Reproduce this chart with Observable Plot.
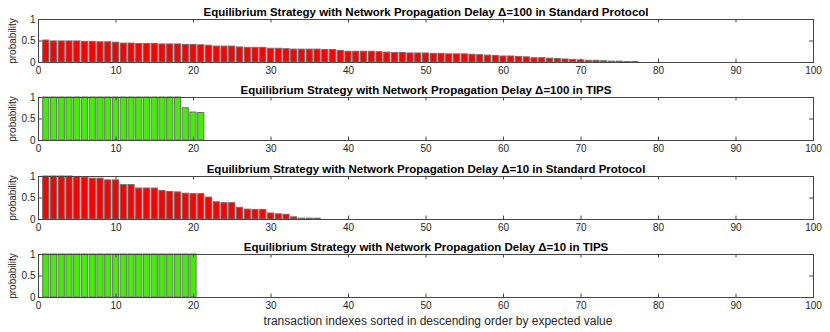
<!DOCTYPE html>
<html>
<head>
<meta charset="utf-8">
<script src="https://cdn.jsdelivr.net/npm/d3@7"></script>
<script src="https://cdn.jsdelivr.net/npm/@observablehq/plot@0.6"></script>
<style>
  html, body { margin: 0; padding: 0; background: #fff; }
  #chart { position: relative; width: 830px; height: 332px; font-family: "Liberation Sans", Arial, sans-serif; }
  #chart svg { position: absolute; left: 0; }
</style>
</head>
<body>
<div id="chart"></div>
<script>
// ---- data ----
const titles = [
  "Equilibrium Strategy with Network Propagation Delay \u0394=100 in Standard Protocol",
  "Equilibrium Strategy with Network Propagation Delay \u0394=100 in TIPS",
  "Equilibrium Strategy with Network Propagation Delay \u0394=10 in Standard Protocol",
  "Equilibrium Strategy with Network Propagation Delay \u0394=10 in TIPS"
];
const std100 = [0.51,0.49,0.49,0.49,0.49,0.48,0.48,0.47,0.47,0.46,
  0.44,0.44,0.43,0.43,0.43,0.42,0.42,0.42,0.41,0.41,
  0.40,0.39,0.37,0.37,0.37,0.35,0.34,0.34,0.34,0.32,
  0.32,0.31,0.30,0.30,0.30,0.30,0.29,0.29,0.27,0.25,
  0.25,0.25,0.25,0.24,0.23,0.22,0.22,0.21,0.21,0.21,
  0.20,0.20,0.19,0.19,0.19,0.18,0.17,0.16,0.15,0.14,
  0.14,0.13,0.12,0.10,0.10,0.09,0.08,0.07,0.06,0.05,
  0.04,0.04,0.03,0.02,0.02,0.01,0.01];
const tips100 = [1,1,1,1,1,1,1,1,1,1,1,1,1,1,1,1,1,1,0.75,0.65,0.64];
const std10 = [1.00,1.00,1.00,1.00,0.99,0.97,0.95,0.95,0.91,0.91,
  0.80,0.80,0.72,0.72,0.72,0.66,0.64,0.63,0.60,0.59,
  0.59,0.51,0.40,0.38,0.38,0.27,0.23,0.22,0.22,0.14,
  0.12,0.11,0.05,0.02,0.02,0.02];
const tips10 = [1,1,1,1,1,1,1,1,1,1,1,1,1,1,1,1,1,1,1,1];
const seriesList = [std100, tips100, std10, tips10];
const colors = ["#ff0000", "#40f000", "#ff0000", "#40f000"];
const xTicks = [0,10,20,30,40,50,60,70,80,90,100];
const yTicks = [0, 0.5, 1];
const yLabel = "probability";
const xLabel = "transaction indexes sorted in descending order by expected value";

// ---- drawing ----
const tops = [0, 78, 157, 235];
const container = document.getElementById("chart");
const txt = "#262626";

seriesList.forEach((vals, k) => {
  const data = vals.map((v, i) => ({i: i + 1, v}));
  const last = k === 3;
  const marks = [
    Plot.rectY(data, {x1: d => d.i - 0.4, x2: d => d.i + 0.4, y1: 0, y2: d => d.v,
      fill: colors[k], stroke: "#6e6e6e", strokeWidth: 1}),
    Plot.ruleX(xTicks, {x: d => d, y1: 0, y2: 0.08, stroke: "#444"}),
    Plot.ruleX(xTicks, {x: d => d, y1: 0.92, y2: 1, stroke: "#444"}),
    Plot.ruleY(yTicks, {y: d => d, x1: 0, x2: 0.5, stroke: "#444"}),
    Plot.ruleY(yTicks, {y: d => d, x1: 99.5, x2: 100, stroke: "#444"}),
    Plot.frame({stroke: "#444"}),
    Plot.axisX(xTicks, {tickSize: 0, tickPadding: 4, fontSize: 10, fill: txt, label: null}),
    Plot.axisY(yTicks, {tickSize: 0, tickPadding: 3, fontSize: 10, fill: txt, label: null, tickFormat: d => String(d)}),
    Plot.text([titles[k]], {text: d => d, frameAnchor: "top", lineAnchor: "middle", textAnchor: "middle",
      dy: -7, fontWeight: "bold", fontSize: 11.5, fill: "#000"}),
    Plot.text([yLabel], {text: d => d, frameAnchor: "left", lineAnchor: "middle", textAnchor: "middle",
      dx: -26, rotate: -90, fontSize: 10, fill: txt})
  ];
  if (last) {
    marks.push(Plot.text([xLabel], {text: d => d, frameAnchor: "bottom", lineAnchor: "middle", textAnchor: "middle",
      dy: 24, dx: 12, fontSize: 12, fill: txt}));
  }
  const svg = Plot.plot({
    width: 830,
    height: last ? 97 : 78,
    marginTop: 19,
    marginBottom: last ? 35 : 16,
    marginLeft: 38,
    marginRight: 17,
    style: {fontFamily: "'Liberation Sans', Arial, sans-serif", background: "transparent", overflow: "visible"},
    x: {domain: [0, 100]},
    y: {domain: [0, 1]},
    marks
  });
  svg.style.top = tops[k] + "px";
  container.appendChild(svg);
});
</script>
</body>
</html>
